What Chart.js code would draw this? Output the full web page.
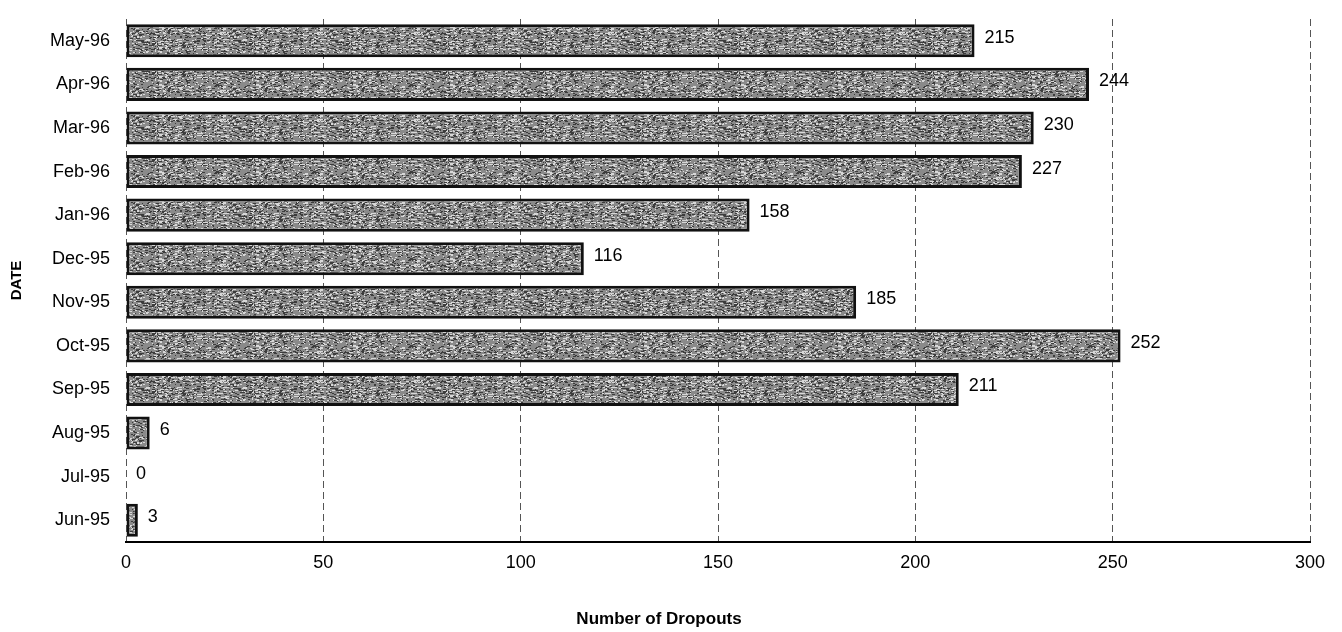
<!DOCTYPE html>
<html>
<head>
<script src="https://cdn.jsdelivr.net/npm/chart.js"></script>
<style>
  html, body { margin: 0; padding: 0; background: #fff; }
  #wrap { width: 1342px; height: 632px; }
</style>
<title>Dropouts</title>
</head>
<body>
<div id="wrap"><canvas id="myChart"></canvas></div>
<script>
// categories top to bottom, as on the picture
const months = ['May-96', 'Apr-96', 'Mar-96', 'Feb-96', 'Jan-96', 'Dec-95',
                'Nov-95', 'Oct-95', 'Sep-95', 'Aug-95', 'Jul-95', 'Jun-95'];
const dropouts = [215, 244, 230, 227, 158, 116, 185, 252, 211, 6, 0, 3];
const xTicks = [0, 50, 100, 150, 200, 250, 300];

const FONT = '"Liberation Sans", Arial, sans-serif';

// grainy gray fill, like the photocopied bars
function makeGrain() {
  const c = document.createElement('canvas');
  c.width = 97; c.height = 29;
  const g = c.getContext('2d');
  g.fillStyle = '#8a8a8a';
  g.fillRect(0, 0, c.width, c.height);
  let s = 7;
  const next = () => { s = (s * 1103515245 + 12345) % 2147483648; return s / 2147483648; };
  for (let i = 0; i < 700; i++) {
    const x = Math.floor(next() * c.width), y = Math.floor(next() * c.height);
    g.fillStyle = next() < 0.55 ? '#3c3c3c' : '#d8d8d8';
    g.fillRect(x, y, 1 + Math.floor(next() * 3), 1);
  }
  return g.createPattern(c, 'repeat');
}

// value labels to the right of each bar
const valueLabels = {
  id: 'valueLabels',
  afterDatasetsDraw(chart) {
    const ctx = chart.ctx;
    const meta = chart.getDatasetMeta(0);
    ctx.save();
    ctx.font = '18px ' + FONT;
    ctx.fillStyle = '#000';
    ctx.textBaseline = 'middle';
    meta.data.forEach((bar, i) => {
      ctx.fillText(String(dropouts[i]), bar.x + 10, bar.y - 3);
    });
    ctx.restore();
  }
};

const ctx = document.getElementById('myChart');
new Chart(ctx, {
  type: 'bar',
  data: {
    labels: months,
    datasets: [{
      label: 'Dropouts',
      data: dropouts,
      backgroundColor: makeGrain(),
      borderColor: '#111',
      borderWidth: 3,
      borderSkipped: false,
      barPercentage: 0.76,
      categoryPercentage: 1.0
    }]
  },
  options: {
    indexAxis: 'y',
    responsive: true,
    maintainAspectRatio: false,
    animation: false,
    layout: { padding: { left: 8, right: 32, top: 19, bottom: 0 } },
    scales: {
      x: {
        min: 0,
        max: 300,
        afterBuildTicks: axis => { axis.ticks = xTicks.map(v => ({ value: v })); },
        grid: {
          color: '#555',
          lineWidth: 1,
          drawTicks: false
        },
        border: { display: true, color: '#000', width: 2, dash: [7, 4] },
        ticks: {
          padding: 10,
          color: '#000',
          font: { family: FONT, size: 18 }
        }
      },
      y: {
        // the tick padding should not push the plot down
        afterFit: s => { s.paddingTop = 0; s.paddingBottom = 0; },
        grid: { display: false, drawTicks: false },
        border: { display: false },
        ticks: {
          padding: 16,
          color: '#000',
          font: { family: FONT, size: 18 }
        },
        title: {
          display: true,
          text: 'DATE',
          color: '#000',
          padding: { top: 0, bottom: 8 },
          font: { family: FONT, size: 15, weight: 'bold' }
        }
      }
    },
    plugins: {
      legend: { display: false },
      tooltip: { enabled: false },
      title: {
        display: true,
        position: 'bottom',
        text: 'Number of Dropouts',
        color: '#000',
        padding: { top: 26, bottom: 2 },
        font: { family: FONT, size: 17, weight: 'bold' }
      }
    }
  },
  plugins: [valueLabels]
});
</script>
</body>
</html>
